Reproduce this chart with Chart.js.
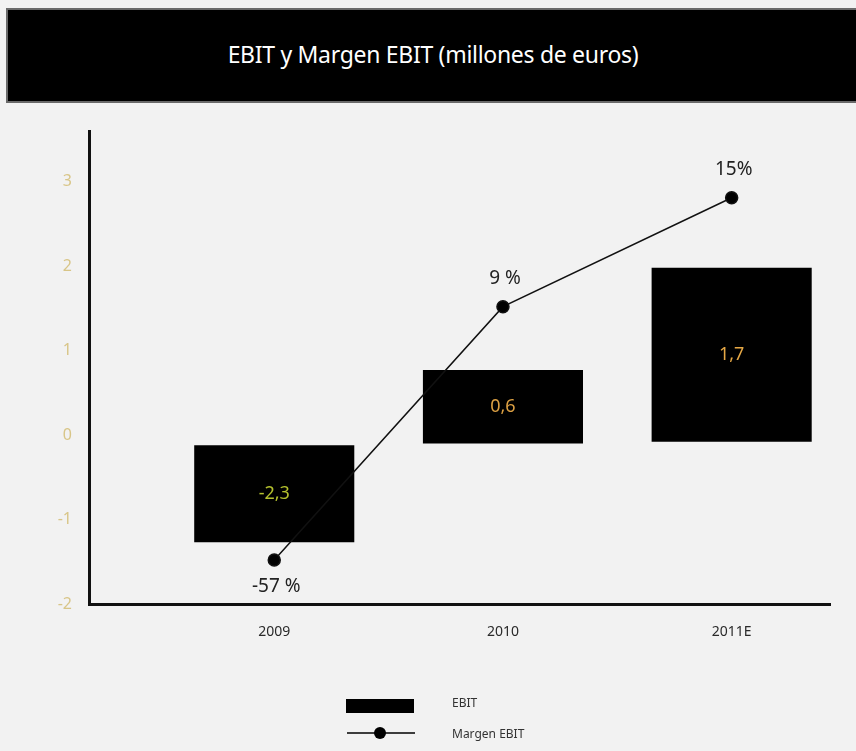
<!DOCTYPE html>
<html>
<head>
<meta charset="utf-8">
<script src="https://cdn.jsdelivr.net/npm/chart.js@4.4.0/dist/chart.umd.min.js"></script>
<style>
  html, body { margin: 0; padding: 0; background: #f2f2f2; }
  #wrap { position: relative; width: 856px; height: 751px; overflow: hidden; }
  #titulo {
    position: absolute; left: 6px; top: 8px; width: 860px; height: 91px;
    background: #000; border: 2px solid #6a6a6a; color: #fff;
    font-family: "Noto Sans", sans-serif; font-size: 23px;
    line-height: 89px; text-align: center; z-index: 2;
  }
  #titulo span { position: relative; left: -5px; letter-spacing: -0.3px; }
  canvas { position: absolute; left: 0; top: 0; }
</style>
</head>
<body>
<div id="wrap">
  <div id="titulo"><span>EBIT y Margen EBIT (millones de euros)</span></div>
  <canvas id="grafico" width="856" height="751"></canvas>
</div>
<script>
// categorias y valores
var years = ['2009', '2010', '2011E'];
var ebit = [-2.3, 0.6, 1.7];            // millones de euros
var margen = [-57, 9, 15];              // %
var margenText = ['-57 %', '9 %', '15%'];
// extremos de cada caja y posicion de cada punto sobre el eje de la izquierda
var ebitBottom = [-1.27, -0.10, -0.08];
var ebitTop = [-0.12, 0.77, 1.98];
var margenPos = [-1.48, 1.52, 2.81];
var yTicks = [-2, -1, 0, 1, 2, 3];
var ebitColors = ['#b4c02e', '#dca043', '#e6a845'];

function fmt(v) {
    return String(v).replace('.', ',');
}

// etiquetas de valor dentro de las cajas y encima/debajo de los puntos
const valueLabels = {
    id: 'valueLabels',
    afterDatasetsDraw(chart) {
        const ctx = chart.ctx;
        ctx.save();
        ctx.textAlign = 'center';
        ctx.textBaseline = 'middle';
        var bars = chart.getDatasetMeta(1).data;
        ctx.font = '18px "Noto Sans", sans-serif';
        bars.forEach(function (b, i) {
            ctx.fillStyle = ebitColors[i];
            ctx.fillText(fmt(ebit[i]), b.x, (b.y + b.base) / 2);
        });
        var pts = chart.getDatasetMeta(0).data;
        ctx.font = '19px "Noto Sans", sans-serif';
        ctx.fillStyle = '#222';
        pts.forEach(function (p, i) {
            var dy = margen[i] < 0 ? 27 : -28;
            ctx.fillText(margenText[i], p.x + 2, p.y + dy);
        });
        ctx.restore();
    }
};

// leyenda en dos filas bajo el grafico
const stackedLegend = {
    id: 'stackedLegend',
    afterDraw(chart) {
        const ctx = chart.ctx;
        var cx = chart.width / 2 - 48;
        ctx.save();
        ctx.fillStyle = '#000';
        ctx.fillRect(cx - 34, 699, 68, 14);
        ctx.strokeStyle = '#000';
        ctx.lineWidth = 1.5;
        ctx.beginPath();
        ctx.moveTo(cx - 33, 733);
        ctx.lineTo(cx + 35, 733);
        ctx.stroke();
        ctx.beginPath();
        ctx.arc(cx, 733, 6, 0, Math.PI * 2);
        ctx.fill();
        ctx.font = '12px "Noto Sans", sans-serif';
        ctx.fillStyle = '#333';
        ctx.textBaseline = 'middle';
        ctx.fillText(chart.data.datasets[1].label, cx + 72, 704);
        ctx.fillText(chart.data.datasets[0].label, cx + 72, 735);
        ctx.restore();
    }
};

const ctx = document.getElementById('grafico').getContext('2d');
const myChart = new Chart(ctx, {
    data: {
        datasets: [{
            type: 'line',
            label: 'Margen EBIT',
            data: margenPos.map(function (v, i) { return { x: i, y: v }; }),
            borderColor: '#111',
            backgroundColor: '#000',
            borderWidth: 1.5,
            pointRadius: 6,
            pointHoverRadius: 6,
            pointBackgroundColor: '#000',
            fill: false,
            tension: 0
        }, {
            type: 'bar',
            label: 'EBIT',
            data: ebitTop.map(function (v, i) { return { x: i, y: [ebitBottom[i], v] }; }),
            backgroundColor: '#000',
            borderWidth: 0,
            categoryPercentage: 1,
            barPercentage: 0.7
        }]
    },
    options: {
        responsive: false,
        animation: false,
        layout: { padding: { left: 0, top: 131, right: 26, bottom: 107 } },
        plugins: {
            legend: { display: false },
            tooltip: { enabled: false }
        },
        scales: {
            x: {
                type: 'linear',
                min: -0.81,
                max: 2.43,
                offset: false,
                grid: { display: false, drawTicks: false },
                border: { display: true, color: '#111', width: 3 },
                afterBuildTicks: function (scale) {
                    scale.ticks = years.map(function (y, i) { return { value: i }; });
                },
                afterFit: function (scale) { scale.height = 40; },
                ticks: {
                    padding: 20,
                    color: '#2a2a2a',
                    font: { family: '"Noto Sans", sans-serif', size: 14 },
                    callback: function (v) { return years[v]; }
                }
            },
            y: {
                min: -2,
                max: 3.6,
                grid: { display: false, drawTicks: false },
                border: { display: true, color: '#111', width: 3 },
                afterBuildTicks: function (scale) {
                    scale.ticks = yTicks.map(function (v) { return { value: v }; });
                },
                afterFit: function (scale) { scale.width = 89; },
                ticks: {
                    padding: 17,
                    color: 'rgba(205, 178, 90, 0.7)',
                    font: { family: '"Noto Sans", sans-serif', size: 16 }
                }
            }
        }
    },
    plugins: [valueLabels, stackedLegend]
});
</script>
</body>
</html>
